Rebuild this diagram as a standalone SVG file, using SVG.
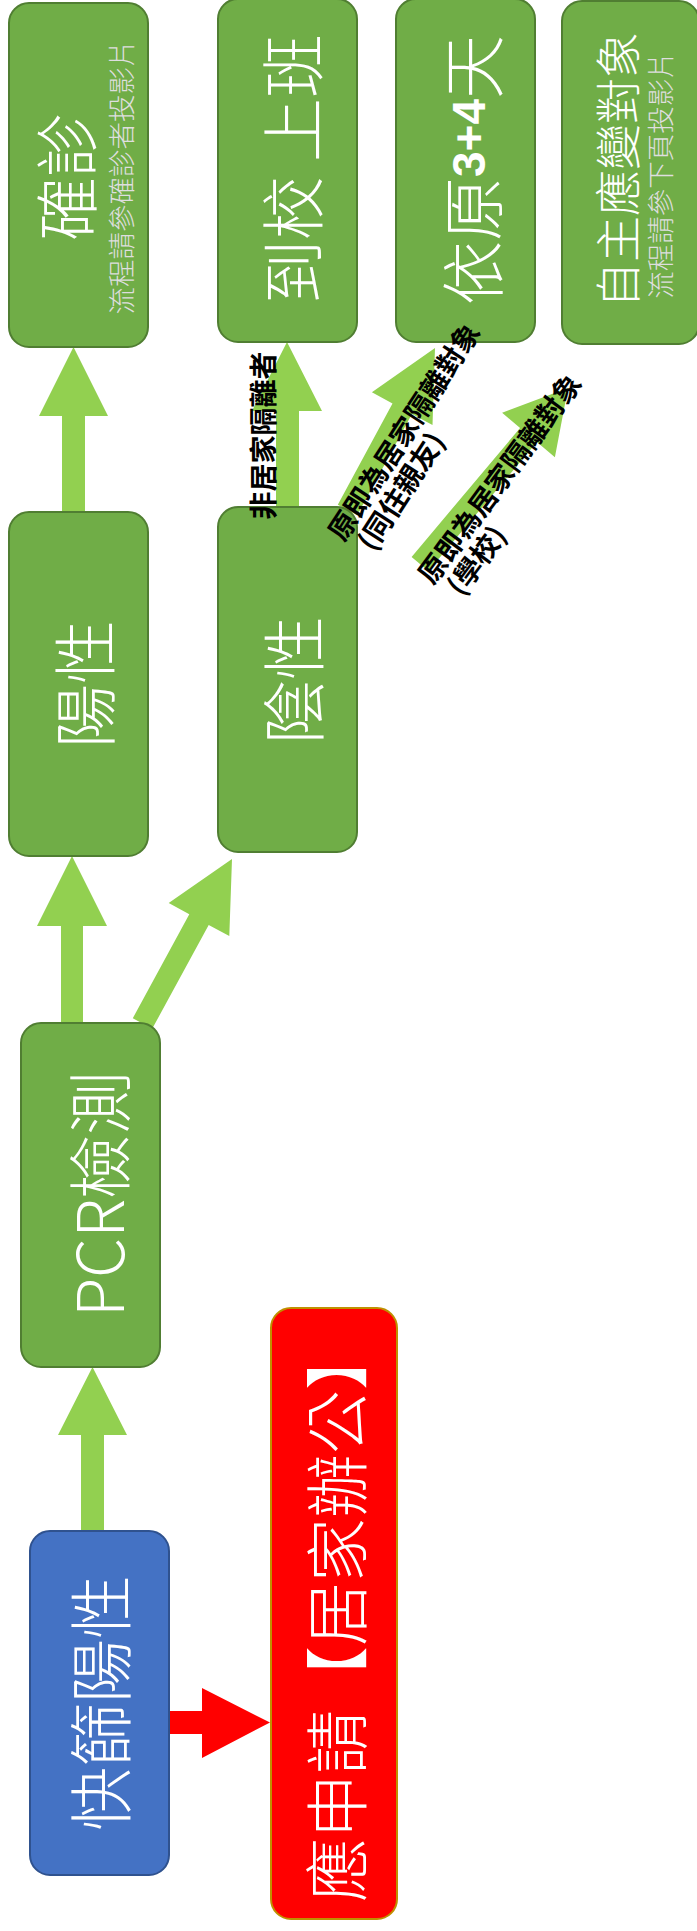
<svg xmlns="http://www.w3.org/2000/svg" width="697" height="1931" viewBox="0 0 697 1931">
<style>
.g{fill:#70AD47;stroke:#507E32;stroke-width:2}
.b{fill:#4472C4;stroke:#2F528F;stroke-width:2}
.r{fill:#FF0000;stroke:#BF9000;stroke-width:2}
.ar{fill:#92D050}
.ra{fill:#FF0000}
.t{font-family:"Noto Sans CJK TC","Noto Sans CJK SC",sans-serif;fill:#FFFFFF;text-anchor:middle;dominant-baseline:central;font-weight:300}
.big{font-size:64px}
.mid{font-size:46px}
.sm{font-size:27.5px;fill:#DEDEDE}
.lb{font-family:"Noto Sans CJK TC","Noto Sans CJK SC",sans-serif;font-size:28px;fill:#000000;font-weight:bold}
</style>
<rect width="697" height="1931" fill="#FFFFFF"/>
<g id="connectors">
<polygon class="ar" points="81,1531 81,1435 58,1435 92.5,1367 127,1435 104,1435 104,1531"/>
<polygon class="ar" points="61,1023 61,926 37,926 72,856 107,926 83,926 83,1023"/>
<polygon class="ar" points="132.8,1018.2 189.3,914.3 168.7,903.1 232,859 229.3,936.1 208.7,924.9 152.2,1028.8"/>
<polygon class="ar" points="62,512 62,416 39,416 73.5,347 108,416 85,416 85,512"/>
<polygon class="ar" points="276,507 276,411 252,411 287,342 322,411 299,411 299,507"/>
<polygon class="ar" points="337.8,504.8 392.5,403.5 371.9,392.3 435,348 432.5,425.1 411.9,413.9 357.2,515.2"/>
<polygon class="ar" points="411.6,556.9 520.1,427.9 502.1,412.8 568,388 554.9,457.2 536.9,442.1 428.4,571.1"/>
<polygon class="ra" points="169,1711 202,1711 202,1688 270,1722.5 202,1758 202,1734 169,1734"/>
</g>
<g id="node-confirmed">
<rect class="g" x="9" y="3" width="139" height="344" rx="20"/>
<text class="t big" transform="translate(63,177) rotate(-90)">確診</text>
<text class="t sm" transform="translate(120,177) rotate(-90)">流程請參確診者投影片</text>
</g>
<g id="node-school">
<rect class="g" x="218" y="-1" width="139" height="343" rx="20"/>
<text class="t big" transform="translate(289,169) rotate(-90)">到校 上班</text>
</g>
<g id="node-34">
<rect class="g" x="396" y="-1" width="139" height="343" rx="20"/>
<text class="t big" transform="translate(469,170) rotate(-90)">依原<tspan style="font-family:'Liberation Sans',sans-serif;font-weight:bold;font-size:46px">3+4</tspan>天</text>
</g>
<g id="node-self">
<rect class="g" x="562" y="1" width="137" height="343" rx="20"/>
<text class="t mid" transform="translate(615,170) rotate(-90)">自主應變對象</text>
<text class="t sm" transform="translate(659,175) rotate(-90)">流程請參下頁投影片</text>
</g>
<g id="node-positive">
<rect class="g" x="9" y="512" width="139" height="344" rx="20"/>
<text class="t big" transform="translate(81,684) rotate(-90)">陽性</text>
</g>
<g id="node-negative">
<rect class="g" x="218" y="507" width="139" height="345" rx="20"/>
<text class="t big" transform="translate(290,680) rotate(-90)">陰性</text>
</g>
<g id="node-pcr">
<rect class="g" x="21" y="1023" width="139" height="344" rx="20"/>
<text class="t big" transform="translate(96,1194) rotate(-90)">PCR檢測</text>
</g>
<g id="node-rapid">
<rect class="b" x="30" y="1531" width="139" height="344" rx="20"/>
<text class="t big" transform="translate(97,1703) rotate(-90)">快篩陽性</text>
</g>
<g id="node-wfh">
<rect class="r" x="271" y="1308" width="126" height="611" rx="20"/>
<text class="t big" transform="translate(333,1614) rotate(-90)">應申請【居家辦公】</text>
</g>
<g id="labels">
<text class="lb" text-anchor="middle" dominant-baseline="central" transform="translate(262,435.5) rotate(-90)">非居家隔離者</text>
<g transform="translate(344,543) rotate(-57)">
<text class="lb" x="0" y="0">原即為居家隔離對象</text>
<text class="lb" x="8" y="30">(同住親友)</text>
</g>
<g transform="translate(433,586) rotate(-53.5)">
<text class="lb" x="0" y="0">原即為居家隔離對象</text>
<text class="lb" x="8" y="30">(學校)</text>
</g>
</g>
</svg>
